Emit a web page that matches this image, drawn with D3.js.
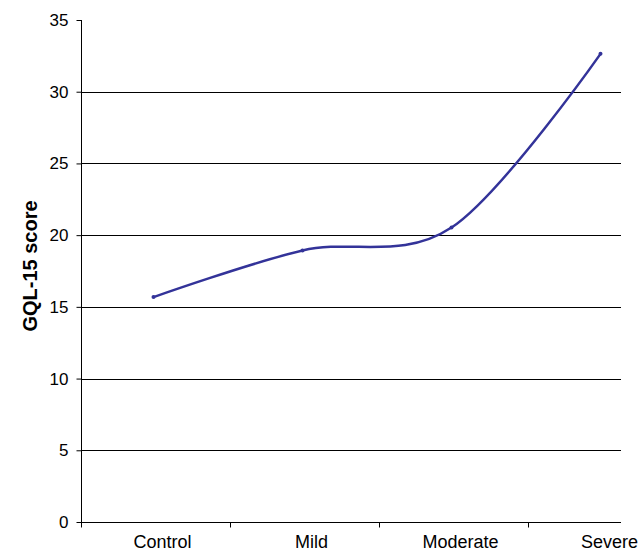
<!DOCTYPE html>
<html>
<head>
<meta charset="utf-8">
<script src="https://cdn.jsdelivr.net/npm/d3@7"></script>
<style>
  html, body { margin: 0; padding: 0; background: #fff; }
  svg { display: block; }
  text { font-family: "Liberation Sans", Arial, sans-serif; fill: #000; }
</style>
</head>
<body>
<script>
const categories = ["Control", "Mild", "Moderate", "Severe"];
const scores = [15.68, 18.93, 20.53, 32.64];
const yTicks = [0, 5, 10, 15, 20, 25, 30, 35];
const gridValues = [5, 10, 15, 20, 25, 30];
const yTitle = "GQL-15 score";

const W = 640, H = 553;
const mLeft = 81, mTop = 20, mBottom = 522, rightClip = 621;
const step = 149;

const svg = d3.select("body").append("svg").attr("width", W).attr("height", H);

const x = d3.scaleBand().domain(categories).range([mLeft, mLeft + step * categories.length]);
const y = d3.scaleLinear().domain([0, 35]).range([mBottom, mTop]);

// gridlines
svg.append("g").selectAll("line").data(gridValues).join("line")
  .attr("x1", mLeft).attr("x2", rightClip)
  .attr("y1", d => Math.round(y(d)) + 0.5).attr("y2", d => Math.round(y(d)) + 0.5)
  .attr("stroke", "#000").attr("stroke-width", 1);

// y axis
const yAxis = svg.append("g").attr("transform", `translate(${mLeft + 0.5},0)`)
  .call(d3.axisLeft(y).tickValues(yTicks).tickSize(5).tickPadding(8));
yAxis.select(".domain").attr("d", `M-0,${y(35)}V${y(0)}`);
yAxis.selectAll("text").style("font-size", "17px").attr("font-family", "Liberation Sans, Arial, sans-serif");

// x axis line
svg.append("line").attr("x1", mLeft).attr("x2", rightClip)
  .attr("y1", Math.round(y(0)) + 0.5).attr("y2", Math.round(y(0)) + 0.5)
  .attr("stroke", "#000");
// x ticks at band boundaries
const bounds = categories.map(c => x(c)).filter(v => v <= rightClip);
svg.append("g").selectAll("line").data(bounds).join("line")
  .attr("x1", d => Math.round(d) + 0.5).attr("x2", d => Math.round(d) + 0.5)
  .attr("y1", Math.round(y(0))).attr("y2", Math.round(y(0)) + 5.5)
  .attr("stroke", "#000");
// x labels
svg.append("g").selectAll("text").data(categories).join("text")
  .attr("x", d => x(d) + x.bandwidth() / 2 + 7)
  .attr("y", mBottom + 26)
  .attr("text-anchor", "middle")
  .style("font-size", "18px")
  .text(d => d);

// y title
svg.append("text")
  .attr("transform", `translate(37,266) rotate(-90)`)
  .attr("text-anchor", "middle")
  .style("font-size", "20px").style("font-weight", "bold")
  .text(yTitle);

// line
const pts = categories.map((c, i) => [x(c) + x.bandwidth() / 2 - 2, y(scores[i])]);
svg.append("path").datum(pts)
  .attr("d", d3.line().curve(d3.curveCardinal.tension(0)))
  .attr("fill", "none").attr("stroke", "#333399").attr("stroke-width", 2.5);
svg.append("g").selectAll("circle").data(pts).join("circle")
  .attr("cx", d => d[0]).attr("cy", d => d[1]).attr("r", 2)
  .attr("fill", "#333399");
</script>
</body>
</html>
